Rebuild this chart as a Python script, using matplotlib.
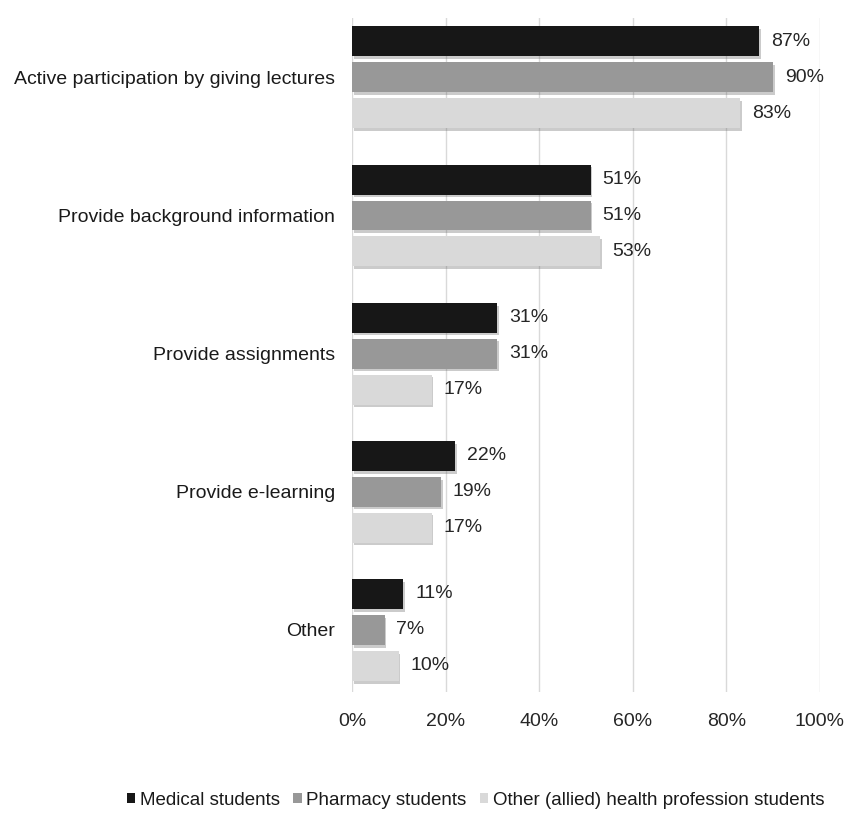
import matplotlib
matplotlib.use("Agg")
import matplotlib.pyplot as plt
import matplotlib.patheffects as pe
from matplotlib.patches import Patch
import numpy as np

plt.rcParams['font.family'] = ['Liberation Sans', 'DejaVu Sans']

categories = ["Active participation by giving lectures", "Provide background information",
              "Provide assignments", "Provide e-learning", "Other"]
series_names = ["Medical students", "Pharmacy students", "Other (allied) health profession students"]
medical = [87, 51, 31, 22, 11]
pharmacy = [90, 51, 31, 19, 7]
other = [83, 53, 17, 17, 10]
colors = ["#171717", "#989898", "#d9d9d9"]
x_ticks = [0, 20, 40, 60, 80, 100]

fig = plt.figure(figsize=(8.6, 8.18), dpi=100)
ax = fig.add_axes([352/860, 1-692/818, (820-352)/860, (692-18)/818])

y = np.arange(len(categories))
h = 0.217
step = 0.26
shadow = [pe.SimplePatchShadow(offset=(1.2, -2.0), alpha=0.3, shadow_rgbFace='#555555'), pe.Normal()]
for i, (vals, c) in enumerate(zip([medical, pharmacy, other], colors)):
    bars = ax.barh(y + (i - 1) * step, vals, height=h, color=c, zorder=3)
    for b in bars:
        b.set_path_effects(shadow)
    for yy, v in zip(y + (i - 1) * step, vals):
        ax.text(v + 2.5, yy, f"{v}%", va='center', ha='left', fontsize=14, color='#262626', zorder=4)

ax.set_xlim(0, 100)
ax.set_ylim(len(categories) - 1 + 0.45, -0.43)
ax.set_xticks(x_ticks)
ax.set_xticklabels([f"{t}%" for t in x_ticks], fontsize=14, color='#262626')
ax.set_yticks(y)
ax.set_yticklabels(categories, fontsize=14, color='#1a1a1a')
ax.tick_params(length=0)
ax.tick_params(axis='y', pad=12)
ax.tick_params(axis='x', pad=15)
for s in ax.spines.values():
    s.set_visible(False)
ax.grid(axis='x', color='#d9d9d9', linewidth=1, zorder=0)
ax.set_axisbelow(True)

handles = [Patch(facecolor=c, edgecolor='none', label=n) for c, n in zip(colors, series_names)]
fig.legend(handles=handles, loc='center', bbox_to_anchor=(0.553, 0.022), ncol=3, frameon=False,
           fontsize=13.5, handlelength=0.45, handleheight=0.45, handletextpad=0.25, columnspacing=0.7,
           labelcolor='#1a1a1a')

fig.savefig("out.png", dpi=100)
